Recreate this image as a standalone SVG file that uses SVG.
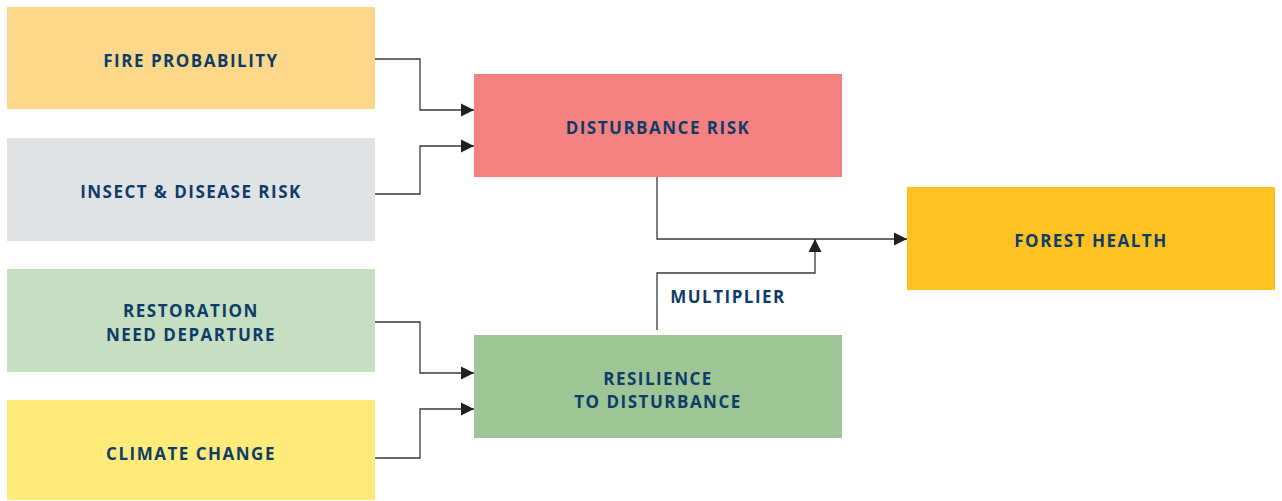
<svg xmlns="http://www.w3.org/2000/svg" width="1282" height="501" viewBox="0 0 1282 501">
<style>
.t{font-family:"Open Sans","Liberation Sans",sans-serif;font-weight:bold;font-size:17px;fill:#0E3C68;letter-spacing:1.5px;text-anchor:middle}
.c{fill:none;stroke:#3a3a3a;stroke-width:1.3}
</style>
<defs>
<marker id="ah" markerWidth="14" markerHeight="14" refX="13" refY="7" orient="auto" markerUnits="userSpaceOnUse">
<path d="M0,0.5 L13,7 L0,13.5 Z" fill="#231f20"/>
</marker>
</defs>
<rect width="1282" height="501" fill="#ffffff"/>
<g id="connectors">
<path class="c" d="M375,59 H420 V110 H474" marker-end="url(#ah)"/>
<path class="c" d="M375,194 H420 V146 H474" marker-end="url(#ah)"/>
<path class="c" d="M375,322 H420 V373 H474" marker-end="url(#ah)"/>
<path class="c" d="M375,458 H420 V409 H474" marker-end="url(#ah)"/>
<path class="c" d="M657,177 V239 H907" marker-end="url(#ah)"/>
<path class="c" d="M657,330 V273 H815 V239" marker-end="url(#ah)"/>
<text class="t" x="728" y="303">MULTIPLIER</text>
</g>
<g id="fire"><rect x="7" y="7" width="368" height="102" fill="#FDD88A"/><text class="t" x="191" y="67">FIRE PROBABILITY</text></g>
<g id="insect"><rect x="7" y="138" width="368" height="103" fill="#E1E2E4"/><text class="t" x="191" y="198">INSECT &amp; DISEASE RISK</text></g>
<g id="restoration"><rect x="7" y="269" width="368" height="103" fill="#C6DEC1"/><text class="t" x="191" y="317">RESTORATION</text><text class="t" x="191" y="341">NEED DEPARTURE</text></g>
<g id="climate"><rect x="7" y="400" width="368" height="100" fill="#FFEB7A"/><text class="t" x="191" y="460">CLIMATE CHANGE</text></g>
<g id="disturbance"><rect x="474" y="74" width="368" height="103" fill="#F48180"/><text class="t" x="658" y="134">DISTURBANCE RISK</text></g>
<g id="resilience"><rect x="474" y="335" width="368" height="103" fill="#9DC596"/><text class="t" x="658" y="385">RESILIENCE</text><text class="t" x="658" y="408">TO DISTURBANCE</text></g>
<g id="forest"><rect x="907" y="187" width="368" height="103" fill="#FDC221"/><text class="t" x="1091" y="247">FOREST HEALTH</text></g>
</svg>
